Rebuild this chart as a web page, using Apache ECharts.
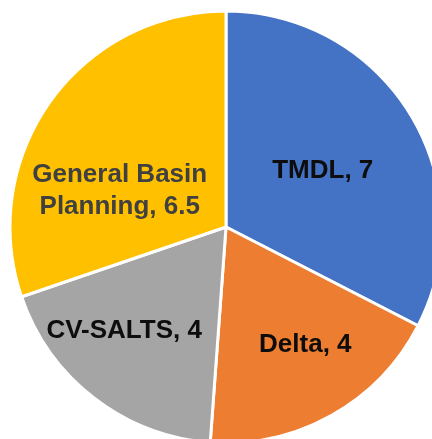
<!DOCTYPE html>
<html lang="en">
<head>
    <meta charset="UTF-8">
    <title>Pie</title>
    <script src="https://cdn.jsdelivr.net/npm/echarts@6/dist/echarts.min.js"></script>
    <style>
        * { padding: 0; margin: 0; }
        body { background: #fff; }
    </style>
</head>
<body>
<div id="pie" style="width:432px;height:439px;"></div>
<script>
    var names = ['TMDL', 'Delta', 'CV-SALTS', 'General Basin\nPlanning'];
    var values = [7, 4, 4, 6.5];
    var colors = ['#4472C4', '#ED7D31', '#A5A5A5', '#FFC000'];
    var textColors = ['#0d0d0d', '#0d0d0d', '#0d0d0d', '#404040'];
    var offsets = [[2, 2], [25, 21], [-34, 16], [-16, 28]];

    var chart = echarts.init(document.getElementById('pie'));
    var option = {
        animation: false,
        series: [{
            type: 'pie',
            center: [226, 227],
            radius: [0, 216],
            startAngle: 90,
            clockwise: true,
            itemStyle: { borderColor: '#fff', borderWidth: 3 },
            label: {
                show: true,
                position: 'inside',
                fontFamily: 'Liberation Sans, Arial, sans-serif',
                fontWeight: 'bold',
                fontSize: 26,
                lineHeight: 32,
                formatter: function (p) { return p.name + ', ' + p.value; }
            },
            labelLine: { show: false },
            data: names.map(function (n, i) {
                return {
                    name: n,
                    value: values[i],
                    itemStyle: { color: colors[i] },
                    label: { color: textColors[i], offset: offsets[i] }
                };
            })
        }]
    };
    chart.setOption(option);
</script>
</body>
</html>
